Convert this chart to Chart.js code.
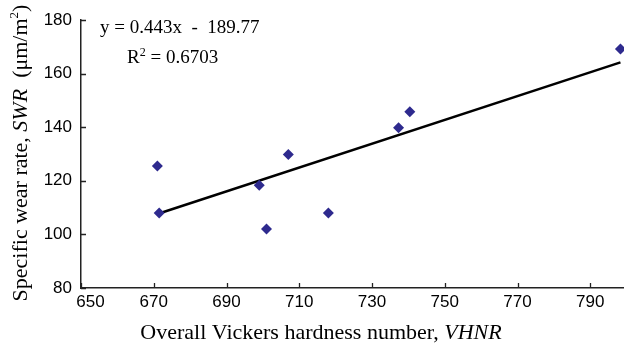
<!DOCTYPE html>
<html><head><meta charset="utf-8">
<script src="https://cdn.jsdelivr.net/npm/chart.js@4/dist/chart.umd.min.js"></script>
<style>html,body{margin:0;padding:0;background:#fff;overflow:hidden}#wrap{width:624px;height:344px}</style>
</head><body><div id="wrap"><canvas id="c" width="624" height="344"></canvas></div>
<script>
const hardness = [671, 671.5, 699, 701, 707, 718, 737.3, 740.4, 798.3];
const wearRate = [125.5, 108, 118.3, 102, 129.8, 108, 139.8, 145.8, 169.2];
const trendX = [671, 798.3];
const trendY = [107.6, 164.2];
const xTicks = [650, 670, 690, 710, 730, 750, 770, 790];
const yTicks = [80, 100, 120, 140, 160, 180];
const xTickLabels = ['    650', '670', '690', '710', '730', '750', '770', '790'];
const eqText = 'y = 0.443x  -  189.77';
const r2Label = 'R';
const r2Value = ' = 0.6703';

const points = hardness.map((x, i) => ({x, y: wearRate[i]}));
const trend = trendX.map((x, i) => ({x, y: trendY[i]}));

const serif = '"Liberation Serif", "Times New Roman", serif';
const sans = '"Liberation Sans", Arial, sans-serif';

function drawRuns(ctx, runs, x, y, align) {
  let total = 0;
  runs.forEach(r => { ctx.font = r.font; total += ctx.measureText(r.t).width; });
  let cx = align === 'center' ? x - total / 2 : x;
  runs.forEach(r => {
    ctx.font = r.font;
    ctx.fillText(r.t, cx, y + (r.dy || 0));
    cx += ctx.measureText(r.t).width;
  });
}

const decor = {
  id: 'decor',
  afterDraw(chart) {
    const ctx = chart.ctx;
    const xs = chart.scales.x, ys = chart.scales.y, a = chart.chartArea;
    ctx.save();
    ctx.strokeStyle = '#222';
    ctx.lineWidth = 1.3;
    ctx.beginPath();
    xTicks.forEach(v => { const px = Math.round(xs.getPixelForValue(v)) + 0.5; ctx.moveTo(px, a.bottom); ctx.lineTo(px, a.bottom - 5); });
    yTicks.forEach(v => { const py = Math.round(ys.getPixelForValue(v)) + 0.5; ctx.moveTo(a.left, py); ctx.lineTo(a.left + 5, py); });
    ctx.stroke();
    ctx.fillStyle = '#000';
    ctx.textBaseline = 'alphabetic';
    ctx.textAlign = 'left';
    drawRuns(ctx, [{t: eqText, font: '19px ' + serif}], 100, 33, 'left');
    drawRuns(ctx, [{t: r2Label, font: '19px ' + serif}, {t: '2', font: '12px ' + serif, dy: -7}, {t: r2Value, font: '19px ' + serif}], 127, 63, 'left');
    drawRuns(ctx, [{t: 'Overall Vickers hardness number, ', font: '22px ' + serif}, {t: 'VHNR', font: 'italic 22px ' + serif}], 321, 339, 'center');
    ctx.translate(26.5, 153);
    ctx.rotate(-Math.PI / 2);
    drawRuns(ctx, [{t: 'Specific wear rate, ', font: '22px ' + serif}, {t: 'SWR', font: 'italic 22px ' + serif}, {t: '  (\u03bcm/m', font: '22px ' + serif}, {t: '2', font: '13px ' + serif, dy: -9}, {t: ')', font: '22px ' + serif}], 0, 0, 'center');
    ctx.restore();
  }
};

new Chart(document.getElementById('c'), {
  type: 'scatter',
  data: {
    datasets: [
      { label: 'data', data: points, pointStyle: 'rectRot', pointRadius: 5.5, pointHoverRadius: 5.5,
        backgroundColor: '#2E2A8E', borderColor: '#2E2A8E', borderWidth: 0, clip: false, order: 1 },
      { label: 'trend', type: 'line', data: trend, borderColor: '#000', borderWidth: 2.5, pointRadius: 0,
        showLine: true, fill: false, clip: false, order: 2 }
    ]
  },
  options: {
    responsive: false,
    animation: false,
    events: [],
    layout: { autoPadding: false, padding: { left: 0, right: 1, top: 20, bottom: 0 } },
    plugins: { legend: { display: false }, tooltip: { enabled: false } },
    scales: {
      x: {
        type: 'linear', min: 650, max: 799,
        afterBuildTicks: s => { s.ticks = xTicks.map(v => ({value: v})); },
        afterFit: s => { s.height = 56; s.paddingRight = 0; s.paddingLeft = 0; },
        grid: { display: true, drawOnChartArea: false, drawTicks: false },
        border: { display: true, color: '#222', width: 1.5 },
        ticks: { padding: 4, color: '#000', font: { family: sans, size: 17 }, maxRotation: 0, autoSkip: false,
                 callback: (v, i) => xTickLabels[i] }
      },
      y: {
        min: 80, max: 180,
        afterBuildTicks: s => { s.ticks = yTicks.map(v => ({value: v})); },
        afterFit: s => { s.width = 81; s.paddingTop = 0; s.paddingBottom = 0; },
        grid: { display: true, drawOnChartArea: false, drawTicks: false },
        border: { display: true, color: '#222', width: 1.5 },
        ticks: { padding: 9, color: '#000', font: { family: sans, size: 17 } }
      }
    }
  },
  plugins: [decor]
});
</script></body></html>
